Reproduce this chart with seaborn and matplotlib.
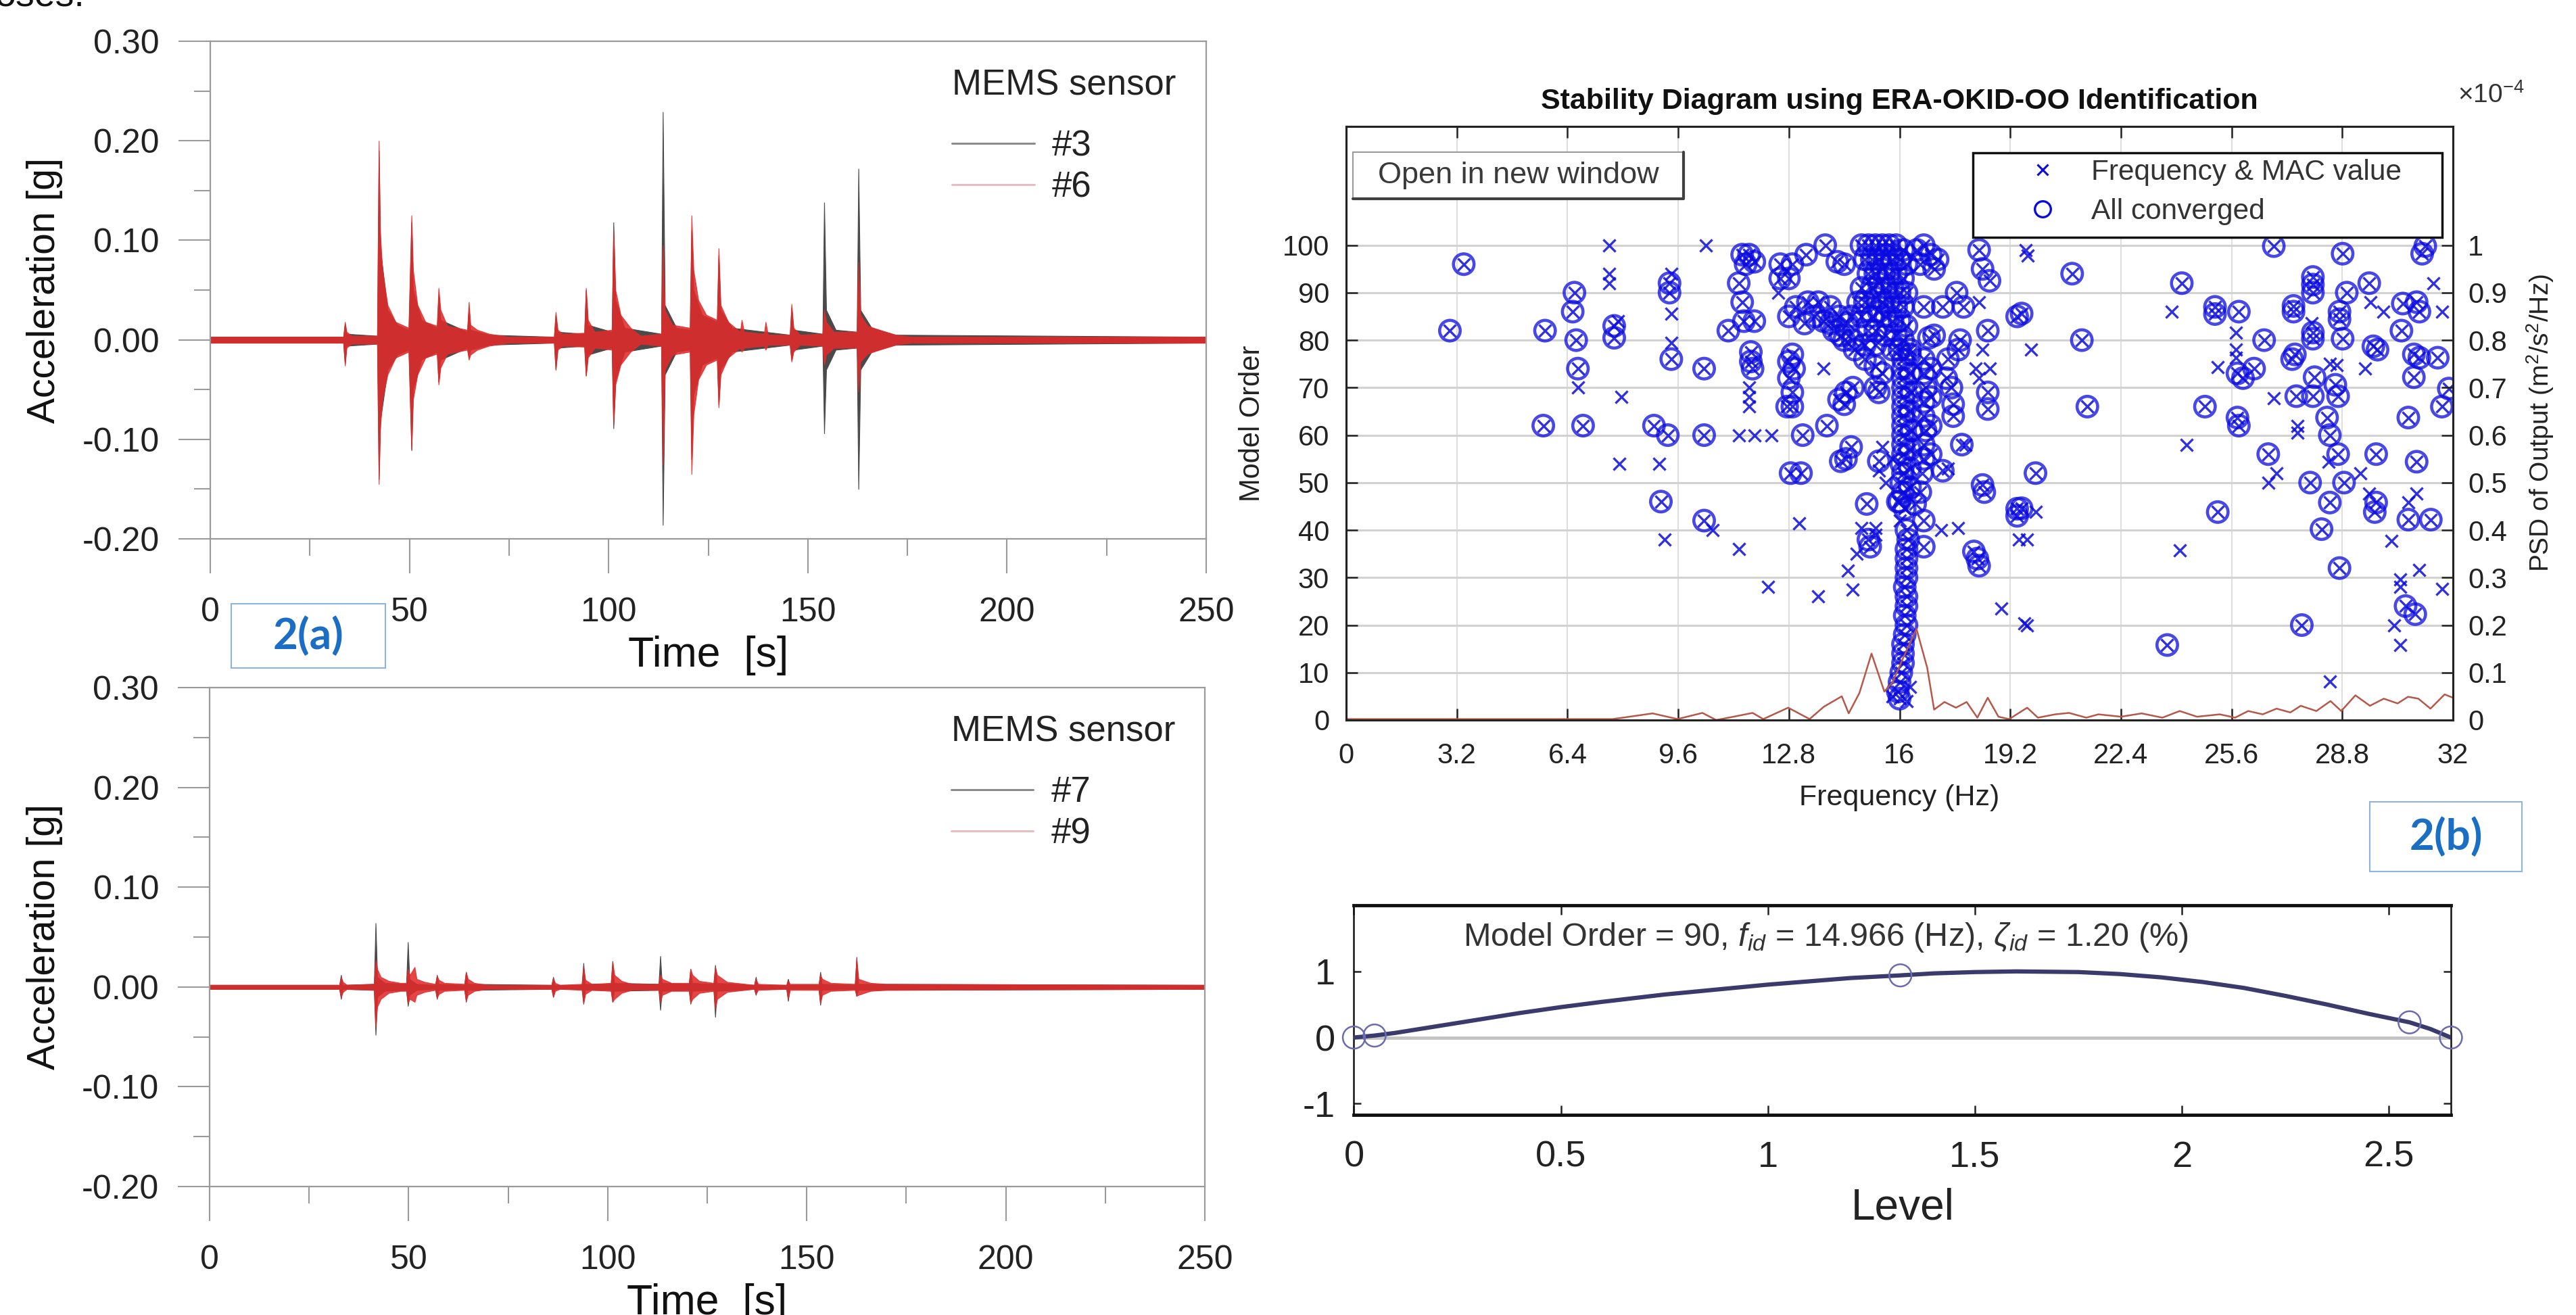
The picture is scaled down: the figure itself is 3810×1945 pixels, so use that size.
import matplotlib
matplotlib.use("Agg")
import matplotlib.pyplot as plt
import seaborn as sns
import pandas as pd
from matplotlib.lines import Line2D
from matplotlib.patches import Rectangle
from matplotlib.ticker import MultipleLocator, FuncFormatter

# ---------------- 2(a): acceleration envelopes (t in s, g) ----
t_s3 = [0, 33.4, 33.8, 34.2, 41.9, 42.3, 42.7, 44.5, 47, 49.8, 50.5, 50.9, 53, 56.9, 57.3, 57.8,
        64.5, 64.9, 65.3, 70, 86.3, 86.7, 87.2, 93.9, 94.3, 94.8, 100.8, 101.2, 101.7, 104,
        113.2, 113.6, 114.1, 117, 120.4, 120.8, 121.3, 123.5, 127.2, 127.6, 128.1, 131,
        145.5, 145.9, 146.4, 153.7, 154.1, 154.6, 157, 162.3, 162.7, 163.2, 166, 172, 250]
up_s3 = [0.003, 0.003, 0.016, 0.006, 0.004, 0.190, 0.090, 0.030, 0.015, 0.010, 0.118, 0.050, 0.020,
         0.012, 0.045, 0.020, 0.008, 0.032, 0.010, 0.005, 0.003, 0.025, 0.008, 0.006, 0.050, 0.015,
         0.008, 0.118, 0.040, 0.012, 0.006, 0.229, 0.035, 0.012, 0.010, 0.110, 0.050, 0.025,
         0.018, 0.085, 0.030, 0.012, 0.005, 0.032, 0.010, 0.006, 0.138, 0.030, 0.010,
         0.008, 0.172, 0.030, 0.012, 0.005, 0.003]
lo_s3 = [-0.003, -0.003, -0.024, -0.006, -0.004, -0.140, -0.080, -0.030, -0.015, -0.010, -0.111,
         -0.050, -0.020, -0.012, -0.042, -0.020, -0.008, -0.018, -0.010, -0.005, -0.003, -0.030,
         -0.008, -0.006, -0.036, -0.015, -0.008, -0.089, -0.040, -0.012, -0.006, -0.186, -0.035,
         -0.012, -0.010, -0.120, -0.055, -0.025, -0.018, -0.065, -0.030, -0.012, -0.005, -0.020,
         -0.010, -0.006, -0.094, -0.030, -0.010, -0.008, -0.150, -0.030, -0.012, -0.005, -0.003]

t_s6 = [0, 33.4, 33.8, 34.2, 35.5, 41.9, 42.3, 42.6, 43.2, 44.5, 46.5, 49.8, 50.5, 50.9, 52, 54,
        56.9, 57.3, 57.8, 59.5, 64.5, 64.9, 65.3, 67, 70, 75, 86.3, 86.7, 87.2, 88.5, 93.9, 94.3,
        94.8, 96.5, 100.8, 101.2, 101.7, 103, 105.5, 108, 113.2, 113.6, 114.1, 116, 120.4, 120.8,
        121.3, 122.5, 124.5, 127.2, 127.6, 128.1, 130, 133, 133.4, 134, 139, 139.4, 140, 145.5,
        145.9, 146.4, 148, 153.7, 154.1, 154.6, 156.5, 162.3, 162.7, 163.2, 165, 168, 172, 176, 250]
up_s6 = [0.003, 0.003, 0.018, 0.008, 0.004, 0.004, 0.200, 0.110, 0.070, 0.035, 0.018, 0.012, 0.125,
         0.070, 0.035, 0.018, 0.014, 0.052, 0.030, 0.014, 0.010, 0.038, 0.015, 0.010, 0.006, 0.003,
         0.003, 0.028, 0.010, 0.006, 0.007, 0.052, 0.020, 0.008, 0.010, 0.110, 0.050, 0.025, 0.012,
         0.004, 0.006, 0.095, 0.030, 0.015, 0.012, 0.125, 0.070, 0.040, 0.025, 0.020, 0.092, 0.035,
         0.018, 0.008, 0.020, 0.008, 0.006, 0.018, 0.005, 0.005, 0.036, 0.012, 0.005, 0.006, 0.030,
         0.018, 0.008, 0.008, 0.078, 0.025, 0.014, 0.010, 0.005, 0.003, 0.003]
lo_s6 = [-0.003, -0.003, -0.026, -0.008, -0.004, -0.004, -0.145, -0.090, -0.060, -0.035, -0.018,
         -0.012, -0.110, -0.060, -0.035, -0.018, -0.014, -0.045, -0.028, -0.014, -0.010, -0.020,
         -0.015, -0.010, -0.006, -0.003, -0.003, -0.030, -0.010, -0.006, -0.007, -0.036, -0.018,
         -0.008, -0.010, -0.085, -0.045, -0.025, -0.012, -0.004, -0.006, -0.125, -0.030, -0.015,
         -0.012, -0.135, -0.075, -0.040, -0.025, -0.020, -0.068, -0.035, -0.018, -0.008, -0.012,
         -0.008, -0.006, -0.010, -0.005, -0.005, -0.022, -0.012, -0.005, -0.006, -0.025, -0.015,
         -0.008, -0.008, -0.052, -0.022, -0.014, -0.010, -0.005, -0.003, -0.003]

t_s7 = [0, 32.6, 33.0, 33.4, 41.3, 41.7, 42.1, 44, 49.4, 49.8, 50.2, 52, 56.7, 57.1, 57.5, 64.0,
        64.4, 64.8, 85.9, 86.3, 86.7, 93.5, 93.9, 94.3, 100.8, 101.2, 101.6, 112.8, 113.2, 113.6,
        120.4, 120.8, 121.2, 126.6, 127.0, 127.4, 136.8, 137.2, 137.6, 144.9, 145.3, 145.7,
        153.0, 153.4, 153.8, 162.1, 162.5, 162.9, 250]
up_s7 = [0.002, 0.002, 0.012, 0.002, 0.003, 0.064, 0.010, 0.004, 0.003, 0.045, 0.008, 0.003,
         0.002, 0.012, 0.003, 0.002, 0.015, 0.003, 0.002, 0.010, 0.002, 0.002, 0.024, 0.003,
         0.003, 0.026, 0.004, 0.003, 0.031, 0.004, 0.003, 0.018, 0.004, 0.003, 0.022, 0.004,
         0.002, 0.010, 0.002, 0.002, 0.008, 0.002, 0.002, 0.015, 0.003, 0.002, 0.030, 0.003, 0.002]
lo_s7 = [-0.002, -0.002, -0.012, -0.002, -0.003, -0.048, -0.010, -0.004, -0.003, -0.019, -0.008,
         -0.003, -0.002, -0.012, -0.003, -0.002, -0.015, -0.003, -0.002, -0.010, -0.002, -0.002,
         -0.017, -0.003, -0.003, -0.015, -0.004, -0.003, -0.023, -0.004, -0.003, -0.017, -0.004,
         -0.003, -0.030, -0.004, -0.002, -0.008, -0.002, -0.002, -0.014, -0.002, -0.002, -0.018,
         -0.003, -0.002, -0.009, -0.003, -0.002]

t_s9 = [0, 32.6, 33.0, 33.5, 34.5, 41.3, 41.7, 42.1, 43, 45, 48, 49.4, 49.8, 50.3, 51.5, 52, 54,
        56.7, 57.1, 57.6, 59, 64.0, 64.4, 64.9, 66.5, 70, 85.9, 86.3, 86.8, 88, 93.5, 93.9, 94.4,
        96, 100.8, 101.2, 101.7, 103.5, 106, 112.8, 113.2, 113.7, 116, 120.4, 120.8, 121.3, 123,
        126.6, 127.0, 127.5, 130, 136.8, 137.2, 137.8, 144.9, 145.3, 145.8, 153.0, 153.4, 153.9,
        156, 162.1, 162.5, 163.0, 166, 170, 250]
up_s9 = [0.002, 0.002, 0.010, 0.005, 0.002, 0.003, 0.027, 0.018, 0.010, 0.006, 0.004, 0.004,
         0.018, 0.012, 0.020, 0.008, 0.005, 0.003, 0.011, 0.007, 0.004, 0.003, 0.015, 0.008,
         0.004, 0.002, 0.002, 0.009, 0.004, 0.002, 0.003, 0.020, 0.007, 0.003, 0.004, 0.025,
         0.012, 0.006, 0.003, 0.003, 0.012, 0.008, 0.004, 0.004, 0.018, 0.012, 0.006, 0.004,
         0.020, 0.012, 0.005, 0.002, 0.008, 0.003, 0.002, 0.006, 0.003, 0.003, 0.012, 0.008,
         0.004, 0.003, 0.028, 0.008, 0.004, 0.003, 0.002]
lo_s9 = [-0.002, -0.002, -0.010, -0.005, -0.002, -0.003, -0.040, -0.020, -0.012, -0.006, -0.004,
         -0.004, -0.016, -0.012, -0.015, -0.008, -0.005, -0.003, -0.011, -0.007, -0.004, -0.003,
         -0.014, -0.008, -0.004, -0.002, -0.002, -0.010, -0.004, -0.002, -0.003, -0.016, -0.007,
         -0.003, -0.004, -0.015, -0.012, -0.006, -0.003, -0.003, -0.015, -0.008, -0.004, -0.004,
         -0.016, -0.012, -0.006, -0.004, -0.022, -0.012, -0.005, -0.002, -0.007, -0.003, -0.002,
         -0.012, -0.003, -0.003, -0.016, -0.008, -0.004, -0.003, -0.009, -0.008, -0.004, -0.003,
         -0.002]

# ---------------- 2(b): stability diagram, (frequency Hz, model order) ----------------
conv_low = [(3.4, 96), (3.0, 82), (5.75, 82), (5.7, 62), (6.6, 90), (6.55, 86), (6.65, 80),
            (6.7, 74), (6.85, 62), (7.75, 83), (7.75, 80.5), (9.35, 92), (9.35, 90), (9.4, 76),
            (8.9, 62), (9.3, 60), (10.35, 74), (10.35, 60), (9.1, 46), (10.35, 42), (11.45, 98),
            (11.65, 98), (11.8, 96.5), (11.55, 96), (11.35, 92), (11.45, 88), (11.8, 84), (11.5, 84),
            (11.05, 82), (11.7, 77.5), (11.7, 75.5), (11.75, 74), (12.55, 96), (12.55, 93),
            (12.8, 93), (12.8, 85), (12.8, 75.5), (12.8, 72), (12.75, 66), (12.85, 52)]
conv_mid = [(13.3, 98), (13.85, 100), (14.2, 96.5), (14.4, 96), (12.9, 96), (13.35, 88), (13.0, 87),
            (13.65, 88), (14.0, 87), (14.25, 85), (14.5, 83.5), (14.65, 80), (14.3, 81), (14.0, 83.5),
            (13.25, 83.5), (13.55, 85), (12.9, 77), (12.95, 74), (12.9, 69), (12.9, 66), (14.45, 69),
            (14.4, 66.5), (14.65, 70), (14.25, 67.5), (15.3, 70), (15.4, 69), (13.9, 62), (13.2, 60),
            (13.15, 52), (14.6, 57.5), (14.45, 55), (14.3, 54.5), (15.4, 54.5), (15.05, 45.5),
            (15.15, 36.5), (15.1, 38), (13.8, 84), (14.1, 82), (14.4, 80), (14.7, 78), (15.0, 76),
            (15.3, 74.5), (15.5, 73)]
conv_peak = [(14.9, 100), (15.1, 100), (15.3, 100), (15.5, 100), (15.7, 100), (15.9, 100), (16.1, 99),
             (15.0, 97), (15.2, 97), (15.4, 97), (15.6, 98), (15.8, 97), (16.0, 97), (16.2, 96),
             (15.1, 94), (15.3, 94), (15.5, 95), (15.7, 94), (15.9, 94), (16.1, 93),
             (14.9, 91), (15.2, 91), (15.4, 92), (15.6, 91), (15.8, 91), (16.0, 90), (16.2, 90),
             (14.8, 88), (15.0, 88), (15.3, 89), (15.5, 88), (15.7, 88), (15.9, 87), (16.1, 87),
             (14.6, 85), (14.9, 85), (15.2, 85), (15.4, 86), (15.6, 85), (15.8, 84), (16.0, 84),
             (16.2, 83), (15.1, 82), (15.3, 82), (15.6, 81), (15.9, 81), (16.1, 80), (15.0, 79),
             (15.3, 79), (15.8, 78), (16.0, 78), (16.3, 78)]
conv_column = [(16.1, 76), (16.1, 74), (16.1, 72), (16.1, 70), (16.1, 68), (16.1, 66), (16.1, 64),
               (16.1, 62), (16.1, 60), (16.1, 58), (16.1, 56), (16.05, 54), (16.1, 52), (16.05, 50),
               (16.1, 48), (16.0, 46), (16.3, 77), (16.3, 73), (16.35, 69), (16.3, 65), (16.35, 61),
               (16.3, 57), (16.3, 53), (16.3, 49), (16.7, 76), (16.7, 73), (16.75, 70), (16.7, 67),
               (16.7, 64), (16.75, 61), (16.7, 58), (16.7, 55), (16.65, 52), (16.9, 74), (16.9, 68),
               (16.9, 62), (16.9, 56), (16.6, 48), (16.45, 45.5), (15.95, 46), (16.15, 44.5),
               (16.7, 42), (16.7, 36.5), (16.2, 40), (16.25, 38), (16.2, 36), (16.2, 34), (16.2, 32),
               (16.2, 30), (16.15, 28), (16.2, 26), (16.2, 24), (16.15, 22), (16.2, 20), (16.15, 18),
               (16.1, 16), (16.1, 14), (16.1, 12), (16.05, 10), (16.0, 8), (15.95, 6), (16.0, 4.5)]
conv_upper = [(16.5, 99), (16.7, 100), (16.9, 98), (17.1, 97), (16.6, 96), (17.0, 95), (16.7, 87),
              (17.0, 81), (16.85, 80.5), (17.25, 87), (17.65, 90), (17.85, 87), (17.75, 80),
              (17.7, 78), (17.5, 70), (17.55, 66.5), (17.55, 64), (17.25, 52.5), (18.3, 99),
              (18.4, 95), (18.6, 92.5), (18.55, 82), (18.55, 69), (18.55, 65.5), (18.4, 49.5),
              (18.45, 48), (18.15, 35.5), (18.3, 32.5), (18.25, 34), (19.4, 85), (19.4, 44.5),
              (19.4, 43), (17.4, 76), (17.35, 72), (17.8, 58)]
conv_high = [(20.99, 94), (21.27, 80), (21.43, 66), (19.93, 52), (19.53, 85.6), (19.53, 44.6),
             (24.16, 92), (25.12, 87), (25.12, 85.5), (25.81, 86), (26.54, 80), (26.25, 74),
             (25.93, 72), (25.77, 73), (25.77, 63.7), (25.81, 62), (24.83, 66), (25.2, 43.8),
             (23.74, 15.8), (26.82, 99.8), (28.81, 98.2), (27.95, 93.3), (27.95, 91.7), (27.95, 90),
             (28.93, 90), (27.39, 87.2), (27.39, 86), (28.72, 86), (28.72, 84.4), (29.58, 92),
             (27.95, 81.6), (27.95, 80.3), (28.81, 80.3), (29.7, 78.7), (29.82, 78), (30.55, 87.7),
             (30.95, 88), (31.03, 86), (30.51, 82), (30.87, 77), (31.03, 76.3), (31.56, 76.3),
             (30.87, 72.2), (31.88, 69.8), (31.68, 66), (31.2, 99.8), (31.11, 98.2), (27.43, 77),
             (27.35, 76), (28.0, 72.2), (27.47, 68.2), (27.95, 68.2), (28.6, 70.6), (28.68, 68.2),
             (28.36, 63.7), (28.44, 60), (28.68, 56), (26.66, 56), (28.85, 50), (27.87, 50),
             (28.44, 45.8), (29.78, 56), (29.78, 45.8), (29.74, 43.8), (30.95, 54.4), (30.71, 63.7),
             (30.71, 42.2), (31.36, 42.2), (28.2, 40.2), (28.72, 32), (27.63, 20), (30.63, 24),
             (30.91, 22.3)]
mac_only = [(7.6, 100), (7.6, 94), (7.6, 92), (6.7, 70), (7.95, 68), (7.9, 54), (9.05, 54),
            (9.4, 85.5), (9.4, 79.5), (10.4, 100), (9.2, 38), (11.35, 36), (12.2, 28), (11.35, 60),
            (11.8, 60), (12.3, 60), (11.65, 70), (11.65, 68), (11.65, 66), (10.6, 40), (12.5, 90),
            (7.85, 84), (9.4, 94), (13.8, 74), (13.1, 41.5), (13.65, 26), (14.65, 27.5),
            (14.5, 31.5), (14.75, 35), (15.3, 40.5), (14.9, 40.5), (15.5, 57.5), (15.4, 52.5),
            (15.8, 5), (16.2, 4), (16.3, 7), (15.3, 39), (15.6, 50), (15.8, 55), (16.0, 42),
            (18.3, 88), (18.4, 78), (18.2, 74), (18.6, 74), (17.7, 40.5), (19.45, 38),
            (18.95, 23.5), (19.6, 20.3), (19.65, 99), (19.7, 97.8), (17.9, 58), (17.4, 53),
            (18.3, 72), (17.2, 40), (19.81, 78), (23.86, 86), (24.3, 58), (24.1, 35.7), (19.69, 20),
            (19.69, 38), (19.93, 43.8), (25.2, 74.3), (25.72, 81.6), (25.72, 78), (25.72, 76.3),
            (26.82, 67.8), (26.66, 50), (26.9, 52), (27.51, 62), (27.51, 60.5), (28.44, 8.1),
            (28.64, 74.7), (29.33, 52), (29.45, 74), (29.62, 88), (29.98, 86), (31.44, 92),
            (31.68, 86), (30.22, 37.7), (30.47, 29.6), (30.47, 28), (30.3, 20), (30.47, 15.8),
            (31.03, 31.6), (31.68, 27.6), (30.71, 45.8), (30.95, 47.7), (29.58, 47.7),
            (27.91, 83.6), (28.4, 54.4), (28.44, 75)]

# PSD of output (x1e-4 m^2/s^2/Hz)
psd_freq = [0, 2, 4, 6, 7.7, 8.0, 8.86, 9.58, 10.3, 10.7, 11.2, 11.75, 12.06, 12.78, 13.4, 13.81,
            14.33, 14.53, 14.84, 15.19, 15.56, 15.8, 16.1, 16.49, 16.8, 17.0, 17.3, 17.63, 17.94,
            18.25, 18.55, 18.86, 19.17, 19.69, 20.0, 20.5, 20.9, 21.4, 21.75, 22.4, 23.0, 23.6,
            24.1, 24.6, 25.26, 25.7, 26.08, 26.5, 26.9, 27.3, 27.6, 28.05, 28.46, 28.77, 29.18,
            29.6, 30.0, 30.4, 30.7, 31.0, 31.35, 31.76, 32.0]
psd_val = [0.002, 0.002, 0.002, 0.002, 0.002, 0.005, 0.014, 0.002, 0.015, 0.0, 0.007, 0.015, 0.002,
           0.026, 0.002, 0.028, 0.05, 0.014, 0.057, 0.14, 0.06, 0.08, 0.13, 0.192, 0.11, 0.022,
           0.038, 0.026, 0.038, 0.005, 0.047, 0.007, 0.002, 0.026, 0.005, 0.012, 0.015, 0.005,
           0.012, 0.007, 0.014, 0.005, 0.019, 0.007, 0.012, 0.005, 0.019, 0.012, 0.024, 0.016,
           0.03, 0.019, 0.04, 0.019, 0.052, 0.03, 0.045, 0.035, 0.049, 0.045, 0.024, 0.054, 0.047]

freq_ticks = [0, 3.2, 6.4, 9.6, 12.8, 16, 19.2, 22.4, 25.6, 28.8, 32]
freq_labels = ["0", "3.2", "6.4", "9.6", "12.8", "16", "19.2", "22.4", "25.6", "28.8", "32"]
psd_ticks = [0, 0.1, 0.2, 0.3, 0.4, 0.5, 0.6, 0.7, 0.8, 0.9, 1.0]
psd_labels = ["0", "0.1", "0.2", "0.3", "0.4", "0.5", "0.6", "0.7", "0.8", "0.9", "1"]

# mode shape
level_x = [0, 0.05, 0.1, 0.25, 0.4, 0.5, 0.6, 0.75, 0.9, 1.0, 1.1, 1.2, 1.32, 1.4, 1.5, 1.6,
           1.75, 1.85, 1.95, 2.05, 2.15, 2.25, 2.35, 2.45, 2.55, 2.6, 2.65]
level_y = [0, 0.03, 0.07, 0.22, 0.37, 0.46, 0.54, 0.65, 0.74, 0.80, 0.85, 0.90, 0.94, 0.97, 0.99,
           1.0, 0.99, 0.96, 0.91, 0.84, 0.75, 0.63, 0.50, 0.36, 0.23, 0.13, 0.0]
node_x = [0, 0.05, 1.32, 2.55, 2.65]
node_y = [0, 0.03, 0.94, 0.23, 0.0]
level_ticks = [0, 0.5, 1, 1.5, 2, 2.5]
level_labels = ["0", "0.5", "1", "1.5", "2", "2.5"]

sns.set_theme(style="white")
plt.rcParams["font.family"] = ["Liberation Sans", "DejaVu Sans"]
plt.rcParams["axes.unicode_minus"] = False
plt.rcParams["mathtext.fontset"] = "custom"
plt.rcParams["mathtext.rm"] = "Liberation Sans"
plt.rcParams["mathtext.it"] = "Liberation Sans:italic"

W, H = 3810, 1945
fig = plt.figure(figsize=(W / 100, H / 100), dpi=100)


def box(x0, y0, x1, y1):
    # pixel rectangle (origin top-left) -> figure fraction rect
    return [x0 / W, 1 - y1 / H, (x1 - x0) / W, (y1 - y0) / H]


def accel_panel(rect, ta, ua, la, tb, ub, lb, names):
    ax = fig.add_axes(rect)
    ax.fill_between(ta, la, ua, color="#4a4a4a", lw=0.8)
    ax.fill_between(tb, lb, ub, color="#e22b2b", alpha=0.88, lw=0.8)
    ax.set_xlim(0, 250)
    ax.set_ylim(-0.2, 0.3)
    ax.xaxis.set_major_locator(MultipleLocator(50))
    ax.xaxis.set_minor_locator(MultipleLocator(25))
    ax.yaxis.set_major_locator(MultipleLocator(0.1))
    ax.yaxis.set_minor_locator(MultipleLocator(0.05))
    ax.yaxis.set_major_formatter(FuncFormatter(lambda v, p: f"{round(v, 2) + 0.0:.2f}"))
    for s in ax.spines.values():
        s.set_visible(True)
        s.set_color("#9a9a9a")
        s.set_linewidth(1.6)
    ax.tick_params(axis="x", which="major", direction="out", bottom=True, length=37, width=1.5,
                   color="#9a9a9a", labelsize=36, labelcolor="#222222", pad=25)
    ax.tick_params(axis="x", which="minor", direction="out", bottom=True, length=18, width=1.5,
                   color="#9a9a9a")
    ax.tick_params(axis="y", which="major", direction="out", left=True, length=34, width=1.5,
                   color="#9a9a9a", labelsize=36, labelcolor="#222222", pad=20)
    ax.tick_params(axis="y", which="minor", direction="out", left=True, length=17, width=1.5,
                   color="#9a9a9a")
    ax.set_xlabel("Time  [s]", fontsize=45, color="#111111")
    ax.xaxis.set_label_coords(0.5, -0.234)
    ax.xaxis.label.set_va("center")
    ax.set_ylabel("Acceleration [g]", fontsize=41, color="#111111")
    ax.yaxis.set_label_coords(-0.166, 0.5)
    ax.yaxis.label.set_va("center")
    handles = [Line2D([0], [0], color="#8c8c8c", lw=2.2), Line2D([0], [0], color="#e9bcc2", lw=2.2)]
    leg = ax.legend(handles, names, title="MEMS sensor", loc="upper left",
                    bbox_to_anchor=(0.745, 0.945), frameon=False, fontsize=38, title_fontsize=38,
                    handlelength=2.3, handletextpad=0.5, labelspacing=0.22, borderpad=0,
                    borderaxespad=0, alignment="left")
    leg._legend_box.sep = 0.75 * 38  # extra room under the legend title
    for txt in leg.get_texts():
        txt.set_color("#222222")
    leg.get_title().set_color("#222222")
    return ax


accel_panel(box(311, 61, 1784, 797), t_s3, up_s3, lo_s3, t_s6, up_s6, lo_s6, ["#3", "#6"])
accel_panel(box(310, 1017, 1782, 1755), t_s7, up_s7, lo_s7, t_s9, up_s9, lo_s9, ["#7", "#9"])

# ---------------- stability diagram ----------------
blue = "#0a0ae0"
ax = fig.add_axes(box(1991, 187, 3628, 1065))
conv = pd.DataFrame(conv_low + conv_mid + conv_peak + conv_column + conv_upper + conv_high,
                    columns=["freq", "order"])
crosses = pd.DataFrame(list(conv.itertuples(index=False, name=None)) + mac_only,
                       columns=["freq", "order"])
sns.scatterplot(data=crosses, x="freq", y="order", marker="x", s=170, color=blue,
                linewidth=2.4, alpha=0.85, ax=ax, zorder=3)
sns.scatterplot(data=conv, x="freq", y="order", marker="o", s=480, facecolor="none",
                edgecolor=blue, linewidth=3.3, alpha=0.75, ax=ax, zorder=3)
ax.set_xlim(0, 32)
ax.set_ylim(0, 125)
ax.set_xticks(freq_ticks)
ax.set_xticklabels(freq_labels)
ax.set_yticks(range(0, 101, 10))
ax.grid(True, axis="x", color="#d8d8d8", lw=1.2)
ax.grid(True, axis="y", color="#d2d2d2", lw=2.2)
ax.set_axisbelow(True)
ax.tick_params(axis="x", direction="in", bottom=True, top=True, length=12, width=1.8,
               color="#222222", labelsize=30, labelcolor="#222222", pad=24)
ax.tick_params(axis="y", direction="in", left=True, right=False, length=12, width=1.8,
               color="#222222", labelsize=30, labelcolor="#222222", pad=18)
for s in ax.spines.values():
    s.set_color("#222222")
    s.set_linewidth(2.2)
ax.set_xlabel("Frequency (Hz)", fontsize=31, color="#222222")
ax.xaxis.set_label_coords(0.5, -0.131)
ax.xaxis.label.set_va("center")
ax.set_ylabel("Model Order", fontsize=30, color="#222222")
ax.yaxis.set_label_coords(-0.085, 0.5)
ax.yaxis.label.set_va("center")
ax.text(0.5, 1.042, "Stability Diagram using ERA-OKID-OO Identification", transform=ax.transAxes,
        ha="center", va="center", fontsize=31, fontweight="bold", color="#111111")
ax.text(1.004, 1.052, r"$\times10^{-4}$", transform=ax.transAxes, ha="left", va="center",
        fontsize=28, color="#333333")

# "Open in new window" button
ax.add_patch(Rectangle((0.006, 0.878), 0.299, 0.079, transform=ax.transAxes, fc="white",
                       ec="#9a9a9a", lw=1.5, zorder=5))
ax.plot([0.006, 0.305, 0.305], [0.878, 0.878, 0.957], transform=ax.transAxes, color="#404040",
        lw=3, zorder=6)
ax.text(0.1555, 0.9175, "Open in new window", transform=ax.transAxes, ha="center", va="center",
        fontsize=32.5, color="#3a3a3a", zorder=7)

# legend: frame drawn as its own box so the entries can sit where the original has them
ax.add_patch(Rectangle((0.566, 0.813), 0.424, 0.143, transform=ax.transAxes, fc="white",
                       ec="#111111", lw=2.5, zorder=7))
leg_handles = [Line2D([], [], ls="none", marker="x", ms=12, mew=2.2, color=blue),
               Line2D([], [], ls="none", marker="o", ms=17, mew=2.4, mfc="none", mec=blue)]
leg = ax.legend(leg_handles, ["Frequency & MAC value", "All converged"], loc="upper left",
                bbox_to_anchor=(0.6164, 0.945), fontsize=30.5, frameon=False, borderpad=0,
                labelspacing=0.42, handlelength=1.0, handletextpad=1.2, borderaxespad=0)
leg.set_zorder(8)
for txt in leg.get_texts():
    txt.set_color("#333333")

ax2 = ax.twinx()
sns.lineplot(x=psd_freq, y=psd_val, ax=ax2, color="#b5584a", lw=1.8)
ax2.set_ylim(0, 1.25)
ax2.set_yticks(psd_ticks)
ax2.set_yticklabels(psd_labels)
ax2.grid(False)
ax2.tick_params(axis="y", direction="in", right=True, length=12, width=1.8, color="#222222",
                labelsize=30, labelcolor="#222222", pad=16)
for s in ax2.spines.values():
    s.set_color("#222222")
    s.set_linewidth(2.2)
ax2.set_ylabel("PSD of Output (m$^2$/s$^2$/Hz)", fontsize=28, color="#222222")
ax2.yaxis.set_label_coords(1.079, 0.5)
ax2.yaxis.label.set_va("center")
ax.set_xlim(0, 32)

# ---------------- mode shape ----------------
ax3 = fig.add_axes(box(2002.5, 1339, 3625, 1649))
ax3.axhline(0, color="#c4c4c4", lw=3.5, zorder=1)
sns.lineplot(x=level_x, y=level_y, ax=ax3, color="#3a3a6c", lw=4.5, sort=False, zorder=3)
sns.scatterplot(x=node_x, y=node_y, marker="o", s=560, facecolor="none", edgecolor="#6b6bb0",
                linewidth=1.8, ax=ax3, zorder=4, clip_on=False)
ax3.set_xlim(0, 2.65)
ax3.set_ylim(-1.17, 2.0)
ax3.set_xticks(level_ticks)
ax3.set_xticklabels(level_labels)
ax3.set_yticks([-1, 0, 1])
ax3.tick_params(axis="x", direction="in", bottom=True, top=True, length=10, width=1.8,
                color="#222222", labelsize=39, labelcolor="#222222", pad=27)
ax3.tick_params(axis="y", direction="in", left=True, right=True, length=8, width=1.8,
                color="#222222", labelsize=39, labelcolor="#222222", pad=20)
for side in ["top", "bottom"]:
    ax3.spines[side].set_linewidth(3.5)
    ax3.spines[side].set_color("#111111")
for side in ["left", "right"]:
    ax3.spines[side].set_linewidth(1.8)
    ax3.spines[side].set_color("#111111")
ax3.set_xlabel("Level", fontsize=46, color="#222222")
ax3.xaxis.set_label_coords(0.5, -0.445)
ax3.xaxis.label.set_va("center")
ax3.set_ylabel("")
ax3.text(0.43, 0.848, r"Model Order = 90, $f_{id}$ = 14.966 (Hz), $\zeta_{id}$ = 1.20 (%)",
         transform=ax3.transAxes, ha="center", va="center", fontsize=35, color="#333333")

# ---------------- panel tags and clipped text ----------------
for (x0, y0, x1, y1), tag in [((342, 893, 570, 988), "2(a)"), ((3505, 1186, 3730, 1289), "2(b)")]:
    fig.add_artist(Rectangle((x0 / W, 1 - y1 / H), (x1 - x0) / W, (y1 - y0) / H,
                             transform=fig.transFigure, fc="white", ec="#8db3e2", lw=1.5))
    fig.text((x0 + x1) / 2 / W, 1 - (y0 + y1) / 2 / H, tag, ha="center", va="center",
             fontsize=46, fontweight="bold", color="#1a6fc4", family=["Lato", "DejaVu Sans"])
fig.text(-0.002, 1 - 10 / H, "oses.", ha="left", va="baseline", fontsize=40, color="#111111")

fig.savefig("out.png", dpi=100, facecolor="white")
